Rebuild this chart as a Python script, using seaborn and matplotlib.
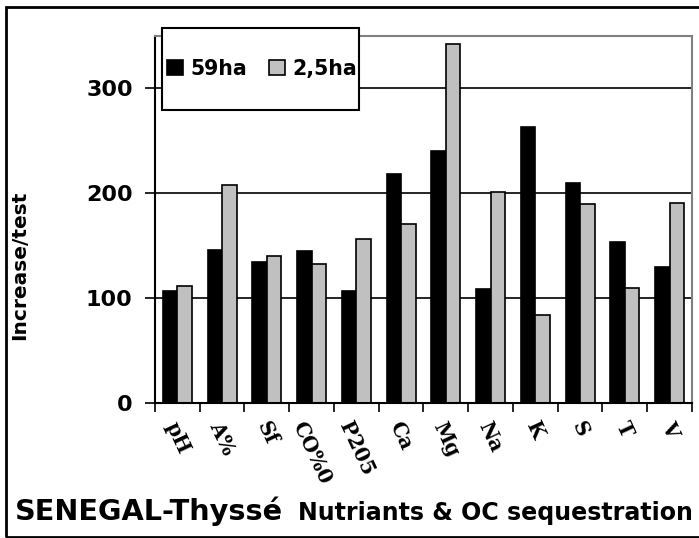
import seaborn as sns
import matplotlib.pyplot as plt
import pandas as pd
from matplotlib.patches import Rectangle

# nutrient categories and values
nutrients = ["pH", "A%", "Sf", "CO%0", "P205", "Ca", "Mg", "Na", "K", "S", "T", "V"]
ha59 = [107, 146, 134, 145, 107, 218, 240, 109, 263, 210, 154, 130]
ha25 = [112, 208, 140, 133, 156, 171, 342, 201, 84, 190, 110, 191]
series = ["59ha", "2,5ha"]

df = pd.DataFrame({
    "nutrient": nutrients * 2,
    "value": ha59 + ha25,
    "site": [series[0]] * len(nutrients) + [series[1]] * len(nutrients),
})

sans = "DejaVu Sans"
serif = "DejaVu Serif"

fig = plt.figure(figsize=(6.99, 5.38), dpi=100)
ax = fig.add_axes([0.2217, 0.2509, 0.7682, 0.6822])

sns.barplot(data=df, x="nutrient", y="value", hue="site", order=nutrients,
            palette=["#000000", "#c0c0c0"], saturation=1, width=0.65,
            edgecolor="black", linewidth=1.2, ax=ax, zorder=2)

ax.set_ylim(0, 350)
ax.set_xlim(-0.5, len(nutrients) - 0.5)
ax.set_yticks([0, 100, 200, 300])
ax.yaxis.grid(True, color="black", linewidth=1.2)
ax.set_axisbelow(True)

for s in ["top", "right"]:
    ax.spines[s].set_color("#808080")
    ax.spines[s].set_linewidth(1.5)
for s in ["left", "bottom"]:
    ax.spines[s].set_color("black")
    ax.spines[s].set_linewidth(1.5)

# y ticks
ax.tick_params(axis="y", direction="out", length=7, width=1.2, pad=9)
for lab in ax.get_yticklabels():
    lab.set_fontfamily(sans)
    lab.set_fontweight("bold")
    lab.set_fontsize(16)

# x: ticks at category boundaries, labels at centres
ax.set_xticks([i - 0.5 for i in range(len(nutrients) + 1)], minor=True)
ax.tick_params(axis="x", which="minor", direction="out", length=6.5, width=1.2)
ax.tick_params(axis="x", which="major", length=0, pad=11)
ax.set_xticks(range(len(nutrients)))
ax.set_xticklabels(nutrients, rotation=-65, ha="center", va="top",
                   fontfamily=serif, fontweight="bold", fontsize=14.5)

ax.set_xlabel("")
ax.set_ylabel("Increase/test", fontfamily=sans, fontweight="bold", fontsize=14.5)
ax.yaxis.set_label_coords(-0.235, 0.376)

# legend with its own frame
handles, labels = ax.get_legend_handles_labels()
ax.get_legend().remove()
frame = Rectangle((0.2318, 0.7955), 0.2818, 0.1524, transform=fig.transFigure,
                  facecolor="white", edgecolor="black", linewidth=1.5,
                  clip_on=False, zorder=4.9)
ax.add_patch(frame)
leg = ax.legend(handles, labels, ncol=2, loc="center",
                bbox_to_anchor=(0.375, 0.8717), bbox_transform=fig.transFigure,
                frameon=False, handlelength=0.75, handleheight=0.75,
                handletextpad=0.35, columnspacing=1.1,
                prop={"family": sans, "weight": "bold", "size": 14.8})
leg.set_zorder(5)

fig.text(15 / 699, 1 - 520 / 538, "SENEGAL-Thyssé", fontfamily=sans,
         fontweight="bold", fontsize=20.7, va="baseline", ha="left")
fig.text(298 / 699, 1 - 520 / 538, "Nutriants & OC sequestration", fontfamily=sans,
         fontweight="bold", fontsize=17.1, va="baseline", ha="left")

# outer frame of the picture
fig.patches.append(Rectangle((6 / 699, 1.5 / 538), 1.0, 1 - 7 / 538 - 1.5 / 538,
                             transform=fig.transFigure, fill=False,
                             edgecolor="black", linewidth=2))

fig.savefig("out.png", dpi=100)
